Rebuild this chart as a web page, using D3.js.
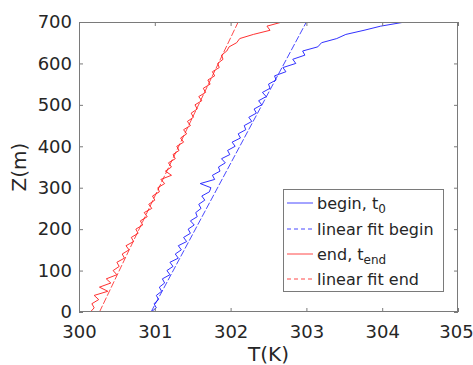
<!DOCTYPE html>
<html><head><meta charset="utf-8">
<script src="https://cdn.jsdelivr.net/npm/d3@7"></script>
<style>
body{margin:0;background:#fff;}
svg{display:block;font-family:"DejaVu Sans",sans-serif;}
</style></head>
<body><svg id="c" width="473" height="365"></svg>
<script>
// heights (m)
const heights = d3.range(0, 701, 10);
// begin profile, t0 (K)
const beginT = [300.95,301.02,300.99,301.05,301.02,301.09,301.06,301.13,301.10,301.20,
 301.16,301.24,301.20,301.31,301.27,301.35,301.31,301.42,301.38,301.47,
 301.44,301.52,301.47,301.56,301.54,301.61,301.58,301.66,301.62,301.72,
 301.74,301.60,301.79,301.76,301.86,301.84,301.93,301.88,301.99,301.96,
 302.06,302.02,302.13,302.10,302.20,302.18,302.28,302.24,302.34,302.31,
 302.41,302.37,302.47,302.42,302.52,302.50,302.60,302.58,302.73,302.69,
 302.86,302.82,302.98,302.95,303.15,303.20,303.40,303.52,303.76,303.98,304.30];
// end profile, t_end (K)
const endT = [300.15,300.20,300.17,300.26,300.20,300.38,300.27,300.42,300.36,300.50,
 300.45,300.53,300.50,300.60,300.57,300.66,300.62,300.72,300.69,300.78,
 300.75,300.84,300.81,300.90,300.86,300.96,300.92,301.00,300.97,301.06,
 301.04,301.13,301.08,301.22,301.14,301.22,301.18,301.27,301.24,301.32,
 301.29,301.38,301.34,301.42,301.38,301.47,301.43,301.51,301.48,301.56,
 301.53,301.62,301.58,301.67,301.64,301.73,301.70,301.79,301.76,301.85,
 301.83,301.90,301.88,301.95,301.98,302.08,302.12,302.30,302.52,302.48,302.68];
// linear fits: values at z = 0 and z = 700
const fitZ = [0, 700];
const fitBeginT = [300.95, 303.00];
const fitEndT = [300.27, 302.10];
const xTicks = [300, 301, 302, 303, 304, 305];
const yTicks = [0, 100, 200, 300, 400, 500, 600, 700];
const legendLabels = [["begin, t","0"],["linear fit begin",""],["end, t","end"],["linear fit end",""]];

const svg = d3.select("#c");
const L = 79, R = 458, T = 22, B = 312;
const x = d3.scaleLinear().domain([300, 305]).range([L, R]);
const y = d3.scaleLinear().domain([0, 700]).range([B, T]);
const axisCol = "#7a7a7a";

svg.append("defs").append("clipPath").attr("id","clip")
  .append("rect").attr("x",L).attr("y",T).attr("width",R-L).attr("height",B-T);

const line = d3.line().x(d=>x(d[0])).y(d=>y(d[1]));
const g = svg.append("g").attr("clip-path","url(#clip)");
const blue = "#1a1aff", red = "#ff1a1a";
g.append("path").attr("d", line(fitZ.map((z,i)=>[fitBeginT[i], z])))
  .attr("fill","none").attr("stroke",blue).attr("stroke-width",0.8).attr("stroke-dasharray","7,2");
g.append("path").attr("d", line(fitZ.map((z,i)=>[fitEndT[i], z])))
  .attr("fill","none").attr("stroke",red).attr("stroke-width",0.8).attr("stroke-dasharray","7,2");
g.append("path").attr("d", line(heights.map((z,i)=>[beginT[i], z])))
  .attr("fill","none").attr("stroke",blue).attr("stroke-width",0.9);
g.append("path").attr("d", line(heights.map((z,i)=>[endT[i], z])))
  .attr("fill","none").attr("stroke",red).attr("stroke-width",0.9);

function styleAxis(sel){
  sel.select(".domain").remove();
  sel.selectAll(".tick line").attr("stroke",axisCol);
  sel.selectAll("text").attr("fill","#262626").style("font-size","18px").style("font-family","DejaVu Sans");
}
const xb = svg.append("g").attr("transform",`translate(0,${B})`)
  .call(d3.axisBottom(x).tickValues(xTicks).tickFormat(d3.format("d")).tickSizeInner(-4).tickSizeOuter(0).tickPadding(13))
  .call(styleAxis);
xb.selectAll(".tick text").filter(d=>d===305).attr("dx",-2);
svg.append("g").attr("transform",`translate(0,${T})`)
  .call(d3.axisTop(x).tickValues(xTicks).tickFormat("").tickSizeInner(-4).tickSizeOuter(0))
  .call(styleAxis);
svg.append("g").attr("transform",`translate(${L},0)`)
  .call(d3.axisLeft(y).tickValues(yTicks).tickFormat(d3.format("d")).tickSizeInner(-4).tickSizeOuter(0).tickPadding(7))
  .call(styleAxis);
svg.append("g").attr("transform",`translate(${R},0)`)
  .call(d3.axisRight(y).tickValues(yTicks).tickFormat("").tickSizeInner(-4).tickSizeOuter(0))
  .call(styleAxis);

svg.append("rect").attr("x",L+0.5).attr("y",T+0.5).attr("width",R-L-1).attr("height",B-T-1)
  .attr("fill","none").attr("stroke",axisCol).attr("stroke-width",1);

svg.append("text").attr("x",(L+R)/2).attr("y",361).attr("text-anchor","middle")
  .attr("fill","#262626").style("font-size","20px").text("T(K)");
svg.append("text").attr("transform",`translate(26,${(T+B)/2}) rotate(-90)`).attr("text-anchor","middle")
  .attr("fill","#262626").style("font-size","20px").text("Z(m)");

// legend
const lg = svg.append("g");
lg.append("rect").attr("x",283.5).attr("y",189.5).attr("width",160).attr("height",102)
  .attr("fill","#fff").attr("stroke",axisCol).attr("stroke-width",1);
const cols = [blue, blue, red, red];
const dashes = [null, "4,3", null, "4,3"];
const rowsY = [203, 229, 254, 279];
legendLabels.forEach((lab,i)=>{
  lg.append("line").attr("x1",287).attr("x2",313).attr("y1",rowsY[i]).attr("y2",rowsY[i])
    .attr("stroke",cols[i]).attr("stroke-width",0.8).attr("stroke-dasharray",dashes[i]);
  const t = lg.append("text").attr("x",317).attr("y",rowsY[i]+5.5)
    .attr("fill","#262626").style("font-size","16px").text(lab[0]);
  if(lab[1]) t.append("tspan").attr("dy",4).style("font-size","12px").text(lab[1]);
});
</script></body></html>
